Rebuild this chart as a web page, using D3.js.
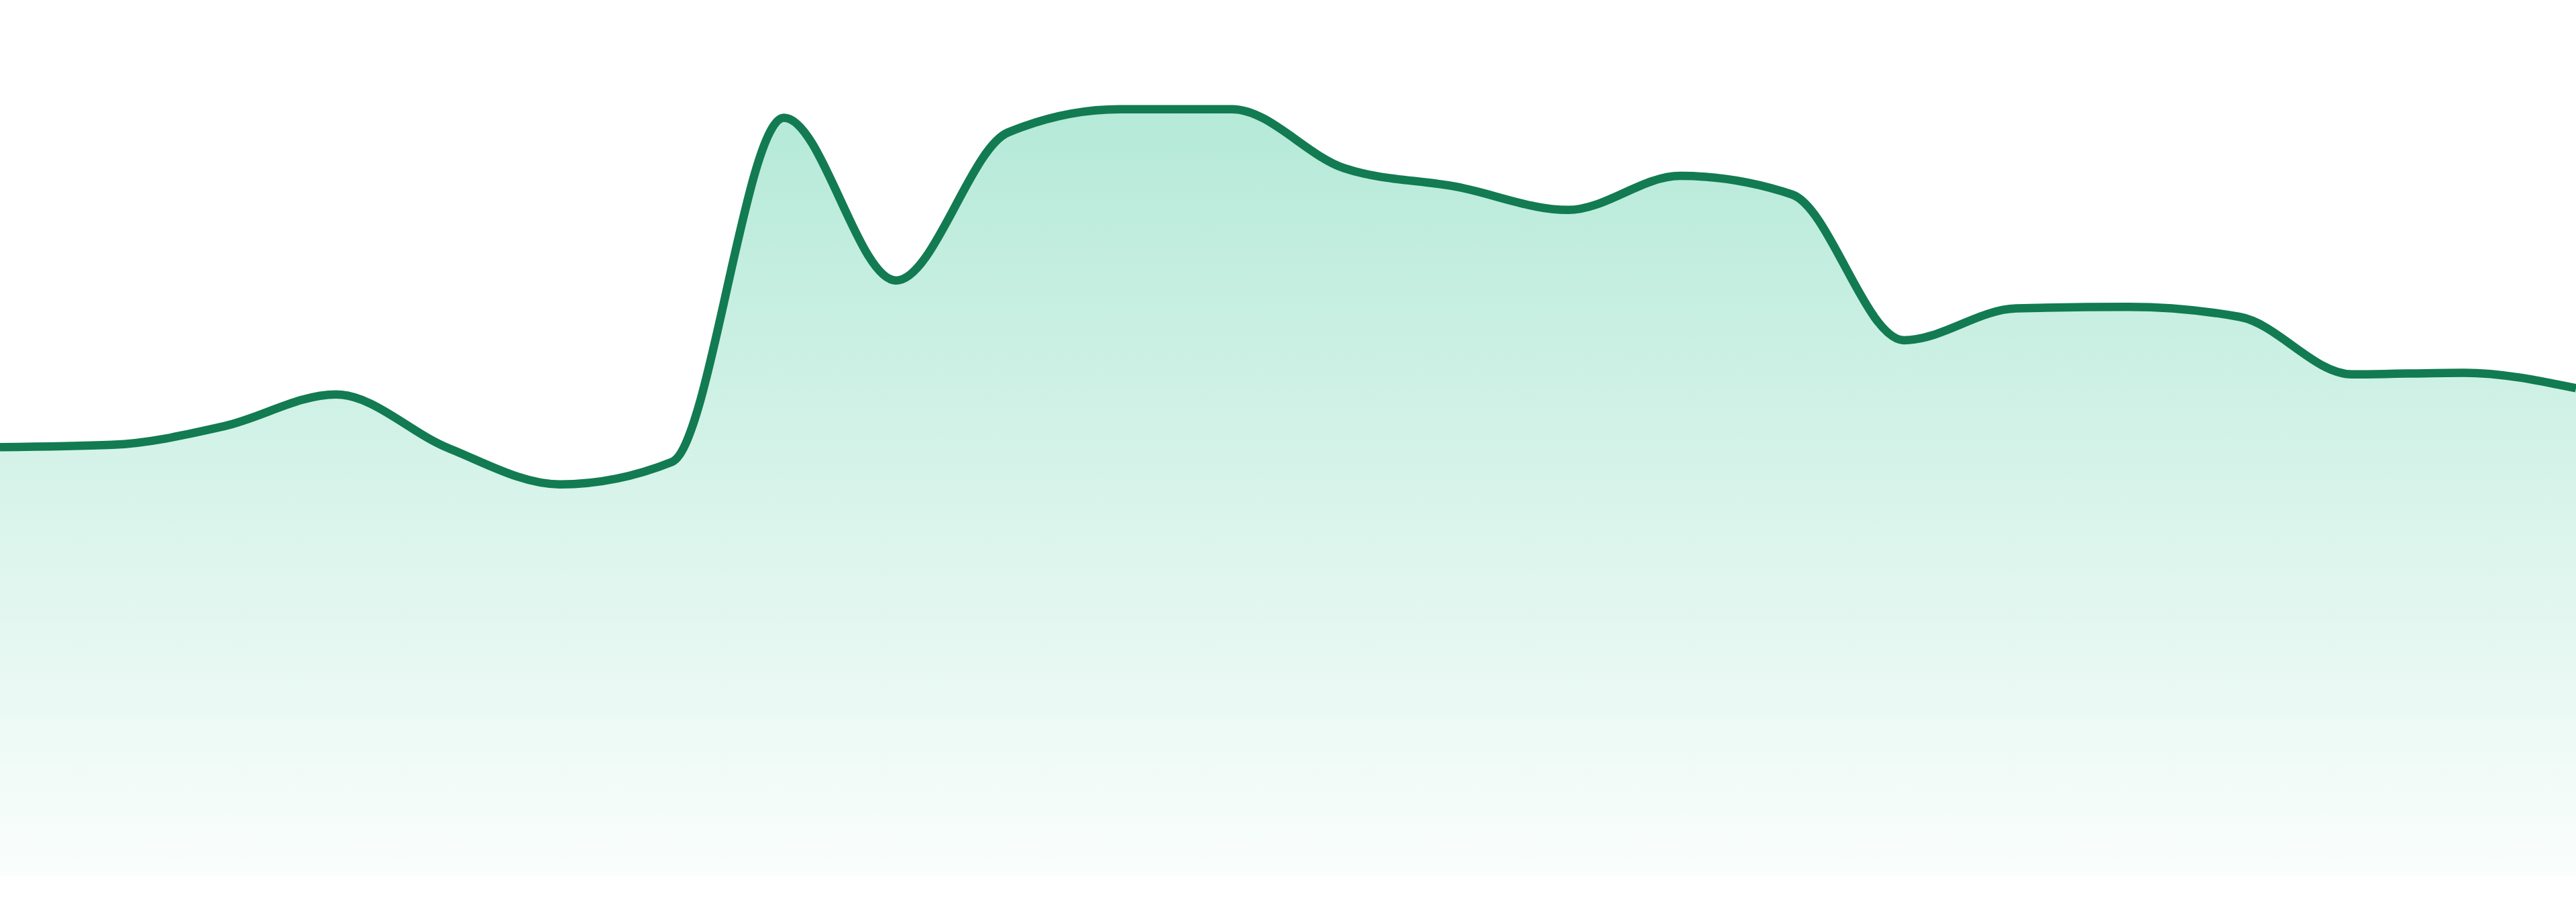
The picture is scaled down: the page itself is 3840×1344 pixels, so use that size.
<!DOCTYPE html>
<html>
<head>
<meta charset="utf-8">
<script src="https://cdn.jsdelivr.net/npm/d3@7"></script>
<style>
  html, body { margin: 0; padding: 0; background: #fff; }
  svg { display: block; }
</style>
</head>
<body>
<script>
// donnees
const labels = ["1","2","3","4","5","6","7","8","9","10","11","12",
                "13","14","15","16","17","18","19","20","21","22","23","24"];
const values = [55.3, 55.6, 58.0, 62.1, 55.2, 50.5, 53.4, 97.8, 76.8, 95.9, 98.9, 98.9,
                91.3, 88.9, 85.9, 90.3, 87.9, 69.1, 73.2, 73.4, 72.1, 64.7, 64.9, 62.9];
const yDomain = [0, 100];

const width = 3840, height = 1344;
const yBottom = 1305, yTop = 150;

const svg = d3.select("body").append("svg")
  .attr("width", width).attr("height", height);

const x = d3.scalePoint().domain(labels).range([0, width]);
const y = d3.scaleLinear().domain(yDomain).range([yBottom, yTop]);

const data = labels.map((l, i) => ({ label: l, value: values[i] }));

// degrade vert
const grad = svg.append("defs").append("linearGradient")
  .attr("id", "fillGrad")
  .attr("gradientUnits", "userSpaceOnUse")
  .attr("x1", 0).attr("x2", 0)
  .attr("y1", y(d3.max(values))).attr("y2", yBottom);
grad.append("stop").attr("offset", "0%").attr("stop-color", "#10b981").attr("stop-opacity", 0.31);
grad.append("stop").attr("offset", "100%").attr("stop-color", "#10b981").attr("stop-opacity", 0.02);

const area = d3.area()
  .x(d => x(d.label))
  .y0(yBottom)
  .y1(d => y(d.value))
  .curve(d3.curveMonotoneX);

const line = d3.line()
  .x(d => x(d.label))
  .y(d => y(d.value))
  .curve(d3.curveMonotoneX);

svg.append("path").datum(data)
  .attr("d", area)
  .attr("fill", "url(#fillGrad)");

svg.append("path").datum(data)
  .attr("d", line)
  .attr("fill", "none")
  .attr("stroke", "#127b52")
  .attr("stroke-width", 12.5)
  .attr("stroke-linejoin", "round");
</script>
</body>
</html>
